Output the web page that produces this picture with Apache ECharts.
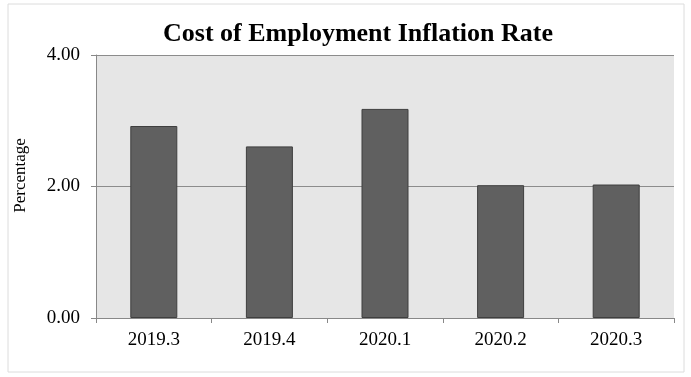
<!DOCTYPE html>
<html>
<head>
<meta charset="utf-8">
<script src="https://cdn.jsdelivr.net/npm/echarts@6/dist/echarts.min.js"></script>
<style>
  html, body { margin: 0; padding: 0; background: #fff; }
  #chart { width: 691px; height: 377px; }
</style>
</head>
<body>
<div id="chart"></div>
<script>
// 数据
var categories = ['2019.3', '2019.4', '2020.1', '2020.2', '2020.3'];
var rates = [2.92, 2.61, 3.18, 2.02, 2.03];
var yTicks = [0, 2, 4];

var chart = echarts.init(document.getElementById('chart'));
var option = {
    backgroundColor: '#ffffff',
    animation: false,
    title: {
        text: 'Cost of Employment Inflation Rate',
        left: 353,
        textAlign: 'center',
        top: 16,
        textStyle: {
            fontFamily: 'Liberation Serif',
            fontWeight: 'bold',
            fontSize: 26,
            color: '#000'
        }
    },
    graphic: [
        {
            type: 'rect',
            shape: { x: 8, y: 4, width: 676, height: 368 },
            style: { fill: 'none', stroke: '#dcdcdc', lineWidth: 1 },
            silent: true
        }
    ],
    grid: {
        left: 96,
        right: 17,
        top: 55,
        bottom: 59,
        outerBoundsMode: 'none',
        containLabel: false,
        show: true,
        backgroundColor: '#e6e6e6',
        borderWidth: 0
    },
    xAxis: {
        type: 'category',
        data: categories,
        axisLine: { lineStyle: { color: '#888', width: 1 } },
        axisTick: { show: true, alignWithLabel: false, length: 5, lineStyle: { color: '#888' } },
        axisLabel: {
            margin: 13,
            fontFamily: 'Liberation Serif',
            fontSize: 19,
            color: '#000'
        }
    },
    yAxis: {
        type: 'value',
        min: yTicks[0],
        max: yTicks[yTicks.length - 1],
        interval: 2,
        name: 'Percentage',
        nameLocation: 'middle',
        nameGap: 67,
        nameRotate: 90,
        nameTextStyle: {
            fontFamily: 'Liberation Serif',
            fontSize: 17,
            color: '#000',
            padding: [0, 0, 0, 22]
        },
        axisLine: { show: true, lineStyle: { color: '#888', width: 1 } },
        axisTick: { show: true, length: 5, lineStyle: { color: '#888' } },
        axisLabel: {
            margin: 16,
            fontFamily: 'Liberation Serif',
            fontSize: 19,
            color: '#000',
            formatter: function (v) { return v.toFixed(2); }
        },
        splitLine: { show: true, lineStyle: { color: '#8c8c8c', width: 1 } }
    },
    series: [
        {
            name: 'Rate',
            type: 'bar',
            data: rates,
            barWidth: 47,
            itemStyle: {
                color: '#606060',
                borderColor: '#3f3f3f',
                borderWidth: 1
            }
        }
    ]
};
chart.setOption(option);
</script>
</body>
</html>
